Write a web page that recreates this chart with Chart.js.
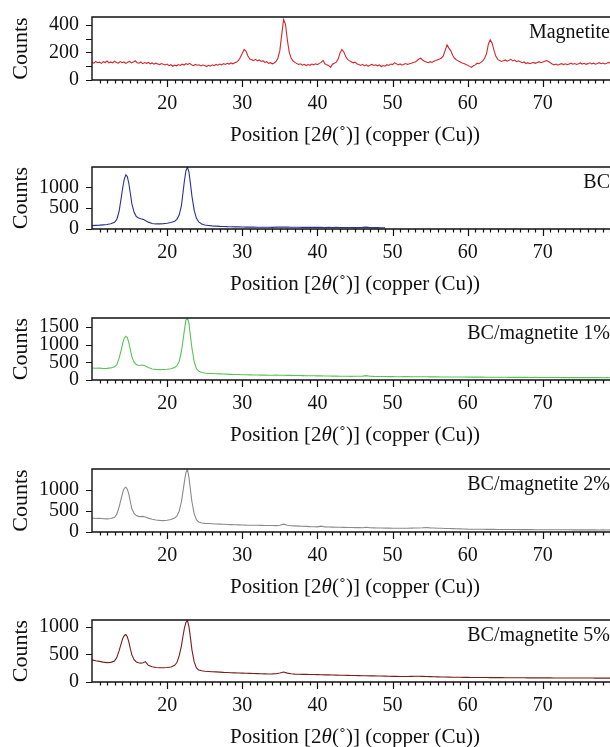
<!DOCTYPE html>
<html><head><meta charset="utf-8">
<script src="https://cdn.jsdelivr.net/npm/chart.js@4"></script>
<style>
html,body{margin:0;padding:0;background:#fff;overflow:hidden;width:610px;height:747px;position:relative;}
canvas.panel{position:absolute;left:0;}
</style></head><body>
<canvas id="c1" class="panel"></canvas>
<canvas id="c2" class="panel"></canvas>
<canvas id="c3" class="panel"></canvas>
<canvas id="c4" class="panel"></canvas>
<canvas id="c5" class="panel"></canvas>
<script>
// ---- Data (2θ in degrees, intensity in counts) ----
const xTickLabels = [20, 30, 40, 50, 60, 70];
const panelLabels = ['Magnetite', 'BC', 'BC/magnetite 1%', 'BC/magnetite 2%', 'BC/magnetite 5%'];

const magnetiteTheta = [
10,10.25,10.5,10.75,11,11.25,11.5,11.75,12,12.25,12.5,12.75,13,13.25,13.5,13.75,14,14.25,14.5,14.75,
15,15.25,15.5,15.75,16,16.25,16.5,16.75,17,17.25,17.5,17.75,18,18.25,18.5,18.75,19,19.25,19.5,19.75,
20,20.25,20.5,20.75,21,21.25,21.5,21.75,22,22.25,22.5,22.75,23,23.25,23.5,23.75,24,24.25,24.5,24.75,
25,25.25,25.5,25.75,26,26.25,26.5,26.75,27,27.25,27.5,27.75,28,28.25,28.5,28.75,29,29.25,29.5,29.75,
30,30.25,30.5,30.75,31,31.25,31.5,31.75,32,32.25,32.5,32.75,33,33.25,33.5,33.75,34,34.25,34.5,34.75,
35,35.25,35.5,35.75,36,36.25,36.5,36.75,37,37.25,37.5,37.75,38,38.25,38.5,38.75,39,39.25,39.5,39.75,
40,40.25,40.5,40.75,41,41.25,41.5,41.75,42,42.25,42.5,42.75,43,43.25,43.5,43.75,44,44.25,44.5,44.75,
45,45.25,45.5,45.75,46,46.25,46.5,46.75,47,47.25,47.5,47.75,48,48.25,48.5,48.75,49,49.25,49.5,49.75,
50,50.25,50.5,50.75,51,51.25,51.5,51.75,52,52.25,52.5,52.75,53,53.25,53.5,53.75,54,54.25,54.5,54.75,
55,55.25,55.5,55.75,56,56.25,56.5,56.75,57,57.25,57.5,57.75,58,58.25,58.5,58.75,59,59.25,59.5,59.75,
60,60.25,60.5,60.75,61,61.25,61.5,61.75,62,62.25,62.5,62.75,63,63.25,63.5,63.75,64,64.25,64.5,64.75,
65,65.25,65.5,65.75,66,66.25,66.5,66.75,67,67.25,67.5,67.75,68,68.25,68.5,68.75,69,69.25,69.5,69.75,
70,70.25,70.5,70.75,71,71.25,71.5,71.75,72,72.25,72.5,72.75,73,73.25,73.5,73.75,74,74.25,74.5,74.75,
75,75.25,75.5,75.75,76,76.25,76.5,76.75,77,77.25,77.5,77.75,78,78.25,78.5,78.75,79,79.25,79.5,79.75,
80];
const magnetiteCounts = [
128,122,135,126, 130,121,133,127, 138,125,131,124, 136,128,122,134, 126,131,121,129,
135,124,130,140, 126,122,131,119, 127,121,128,118, 124,115,122,117, 112,120,114,109,
116,104,111,100, 108,103,112,106, 115,109,119,113, 121,110,104,113, 107,111,102,109,
105,98,107,101, 110,104,113,108, 116,110,119,113, 121,116,124,118, 126,130,142,165,
195,222,210,175, 152,148,141,150, 139,146,135,140, 128,133,121,126, 118,124,135,160,
215,330,440,405, 290,200,160,138, 128,120,113,118, 108,114,105,112, 107,116,110,118,
112,121,128,142, 118,110,104,92, 115,121,130,150, 195,222,205,172, 150,141,133,125,
130,118,112,106, 114,103,110,100, 108,113,106,111, 103,109,98,105, 100,111,106,116,
112,125,119,110, 117,108,114,120, 113,118,122,127, 131,140,152,158, 145,137,131,126,
133,128,136,141, 147,152,160,175, 215,255,232,212, 180,158,146,138, 131,124,120,113,
108,99,92,103, 110,122,118,128, 139,158,190,260, 292,268,215,172, 150,141,135,140,
146,137,143,150, 139,145,134,140, 132,126,131,120, 126,118,123,128, 121,127,133,126,
131,137,141,135, 126,117,110,116, 108,114,119,112, 118,111,117,122, 115,120,113,118,
124,116,121,114, 119,125,117,122, 115,120,126,118, 123,117,121,128, 120,125,118,123,
119];

// shared 2θ positions for the cellulose-based samples
const celluloseTheta = [
10,10.5,11,11.5,12,12.5,13,13.3,13.6,13.9,14.1,14.3,14.5,14.7,14.9,15.1,15.3,15.6,15.9,16.2,16.5,16.8,17.1,17.5,
18,18.5,19,19.5,20,20.5,21,21.3,21.6,21.9,22.1,22.3,22.5,22.7,22.9,23.1,23.3,23.6,23.9,24.2,24.6,
25,25.5,26,26.5,27,27.5,28,28.5,29,29.5, 30,30.5,31,31.5,32,32.5,33,33.5,34,34.5,
35,35.5,36,36.5,37,37.5,38,38.5,39,39.5, 40,40.5,41,41.5,42,42.5,43,43.5,44,44.5,
45,45.5,46,46.5,47,47.5,48,48.5,49,49.5, 50,50.5,51,51.5,52,52.5,53,53.5,54,54.5,
55,55.5,56,56.5,57,57.5,58,58.5,59,59.5, 60,60.5,61,61.5,62,62.5,63,63.5,64,64.5,
65,65.5,66,66.5,67,67.5,68,68.5,69,69.5, 70,70.5,71,71.5,72,72.5,73,73.5,74,74.5,
75,75.5,76,76.5,77,77.5,78,78.5,79,79.5, 80];

const bcCounts = [
80,88,92,100,108,125,160,230,420,760,1010,1200,1300,1260,1100,860,610,400,300,262,245,232,205,165,
132,122,124,130,140,158,188,232,335,560,860,1160,1400,1485,1370,1090,790,450,255,172,122,
98,86,76,70,64,61,57,55,52,50, 47,46,44,45,42,43,41,43,40,44,
46,48,45,43,41,42,40,41,39,40, 38,40,37,39,37,38,36,37,35,36,
34,36,38,44,37,34,32,31,29];

const bcMag1Counts = [
340,332,336,326,330,342,372,435,610,860,1050,1190,1235,1200,1060,860,660,505,435,412,418,422,398,352,
312,300,294,298,306,320,352,405,525,800,1100,1420,1690,1760,1600,1250,900,520,322,250,212,
196,186,182,176,172,168,166,160,156,154, 150,147,146,142,141,138,139,136,135,137,
134,136,132,130,128,126,125,122,121,119, 118,116,113,112,110,109,108,106,105,104,
105,106,110,124,108,102,100,98,97,95, 96,94,93,95,97,93,91,92,90,92,
89,88,89,87,86,87,85,84,85,83, 82,81,82,80,80,79,78,79,77,76,
77,75,76,74,75,73,74,72,73,71, 72,70,71,69,70,68,70,68,69,67,
68,66,68,67,66,67,65,66,65,66, 65];

const bcMag2Counts = [
332,322,326,316,312,322,352,425,585,805,950,1040,1065,1020,900,720,560,442,390,372,366,372,356,330,
302,286,276,272,280,298,330,382,495,720,955,1200,1420,1490,1300,1000,720,432,292,236,216,
206,201,196,192,188,184,180,176,172,170, 166,163,162,160,160,158,156,154,153,152,
160,188,162,150,146,141,137,133,128,126, 122,140,121,118,116,114,112,110,108,106,
105,103,101,114,100,98,96,94,93,92, 90,89,91,88,90,92,94,97,100,106,
98,94,90,88,85,83,80,78,75,72, 68,67,66,65,64,63,63,62,61,60,
60,59,58,58,57,57,56,56,55,55, 55,54,54,53,54,52,53,52,51,52,
51,50,51,50,50,49,50,49,50,49, 49];

const bcMag5Counts = [
400,382,372,358,350,354,380,440,560,700,790,840,855,815,722,600,492,402,362,346,340,348,368,300,
276,262,256,258,262,270,300,350,470,650,820,970,1075,1110,1000,800,580,362,252,216,202,
194,190,186,182,178,174,172,168,165,162, 160,158,156,153,151,149,147,145,146,150,
162,180,160,148,142,140,138,137,135,134, 133,131,129,128,126,124,123,121,119,118,
116,115,113,112,111,110,109,107,106,104, 102,101,100,99,100,101,103,105,102,99,
97,95,93,91,90,88,87,86,85,84, 83,82,82,81,80,80,79,79,78,78,
77,77,77,76,76,76,75,75,75,75, 74,74,74,73,73,73,72,72,72,72,
71,71,71,71,70,70,70,70,70,70, 70];

// y-axis tick labels per panel
const yTickLabels1 = [0, 200, 400];
const yTickLabels2 = [0, 500, 1000];
const yTickLabels3 = [0, 500, 1000, 1500];
const yTickLabels4 = [0, 500, 1000];
const yTickLabels5 = [0, 500, 1000];

// ---- Layout ----
const FONT = '"Liberation Serif", "Times New Roman", serif';
const PAD_TOP = 4, AXIS_H = 66, LEFT = 92, CANVAS_W = 630;

const panels = [
  {id:'c1', theta:magnetiteTheta, counts:magnetiteCounts, color:'#d3262c', label:panelLabels[0], top:17, bottom:80, yMax:458, yMinor:100, yLabels:yTickLabels1},
  {id:'c2', theta:celluloseTheta, counts:bcCounts, color:'#2e3192', label:panelLabels[1], top:167, bottom:229, yMax:1490, yMinor:500, yLabels:yTickLabels2},
  {id:'c3', theta:celluloseTheta, counts:bcMag1Counts, color:'#58c456', label:panelLabels[2], top:318, bottom:380, yMax:1755, yMinor:500, yLabels:yTickLabels3},
  {id:'c4', theta:celluloseTheta, counts:bcMag2Counts, color:'#8a8a8a', label:panelLabels[3], top:469, bottom:532, yMax:1500, yMinor:500, yLabels:yTickLabels4},
  {id:'c5', theta:celluloseTheta, counts:bcMag5Counts, color:'#7a1d1d', label:panelLabels[4], top:620, bottom:682, yMax:1118, yMinor:500, yLabels:yTickLabels5}
];

const framePlugin = {
  id: 'frame',
  afterDraw(chart, args, opts) {
    const {ctx, chartArea:{left, top, right, bottom}, scales:{x, y}} = chart;
    ctx.save();
    ctx.strokeStyle = '#111';
    ctx.lineWidth = 1.4;
    ctx.beginPath();
    ctx.moveTo(right + 5, top); ctx.lineTo(left, top); ctx.lineTo(left, bottom); ctx.lineTo(right + 5, bottom);
    ctx.stroke();
    // x ticks: minor each degree, major each 10
    ctx.lineWidth = 1.2;
    ctx.beginPath();
    for (let v = Math.ceil(x.min) + 1; v <= x.max; v++) {
      const px = Math.round(x.getPixelForValue(v)) + 0.5;
      const len = (v % 10 === 0) ? 7 : 3.5;
      ctx.moveTo(px, bottom); ctx.lineTo(px, bottom + len);
    }
    ctx.stroke();
    // y ticks (not at the very top edge)
    ctx.beginPath();
    for (let v = 0; v < y.max - 1; v += opts.yMinor) {
      const py = Math.round(y.getPixelForValue(v)) + 0.5;
      ctx.moveTo(left - 6, py); ctx.lineTo(left, py);
    }
    ctx.stroke();
    // y tick labels from the scale's ticks
    ctx.fillStyle = '#111';
    ctx.font = '20px ' + FONT;
    ctx.textAlign = 'right'; ctx.textBaseline = 'middle';
    y.ticks.forEach(t => ctx.fillText(String(t.value), left - 13, y.getPixelForValue(t.value)));
    // panel label
    ctx.textAlign = 'right'; ctx.textBaseline = 'alphabetic';
    ctx.fillText(opts.label, 610, top + 21);
    // y title
    ctx.save();
    ctx.translate(21, (top + bottom) / 2);
    ctx.rotate(-Math.PI / 2);
    ctx.font = '22px ' + FONT;
    ctx.textAlign = 'center'; ctx.textBaseline = 'middle';
    ctx.fillText('Counts', 0, 0);
    ctx.restore();
    // x title with italic theta
    const parts = [['Position [2', false], ['\u03B8', true], ['(\u02DA)] (copper (Cu))', false]];
    let total = 0;
    parts.forEach(p => { ctx.font = (p[1] ? 'italic ' : '') + '21px ' + FONT; p.push(ctx.measureText(p[0]).width); total += p[2]; });
    let cx = (left + right) / 2 - total / 2;
    ctx.textAlign = 'left'; ctx.textBaseline = 'middle';
    parts.forEach(p => { ctx.font = (p[1] ? 'italic ' : '') + '21px ' + FONT; ctx.fillText(p[0], cx, bottom + 55); cx += p[2]; });
    ctx.restore();
  }
};

panels.forEach(p => {
  const cv = document.getElementById(p.id);
  const h = PAD_TOP + (p.bottom - p.top) + AXIS_H;
  cv.width = CANVAS_W; cv.height = h;
  cv.style.width = CANVAS_W + 'px'; cv.style.height = h + 'px';
  cv.style.top = (p.top - PAD_TOP) + 'px';
  new Chart(cv.getContext('2d'), {
    type: 'line',
    data: {
      datasets: [{
        data: p.counts.map((c, i) => ({x: p.theta[i], y: c})),
        borderColor: p.color, borderWidth: 1.1, pointRadius: 0, tension: 0, fill: false
      }]
    },
    options: {
      responsive: false, animation: false, devicePixelRatio: 1,
      layout: {autoPadding: false, padding: {top: PAD_TOP, right: 12, left: 0, bottom: 0}},
      plugins: {legend: {display: false}, tooltip: {enabled: false}, frame: {label: p.label, yMinor: p.yMinor}},
      scales: {
        x: {
          type: 'linear', min: 10, max: 80,
          grid: {display: false, drawTicks: false}, border: {display: false},
          ticks: {stepSize: 10, autoSkip: false, maxRotation: 0, includeBounds: false, padding: 12,
                  color: '#111', font: {family: FONT, size: 20},
                  callback: v => xTickLabels.includes(v) ? String(v) : ''},
          afterFit(s) { s.height = AXIS_H; }
        },
        y: {
          type: 'linear', min: 0, max: p.yMax,
          grid: {display: false, drawTicks: false}, border: {display: false},
          ticks: {display: false},
          afterBuildTicks(s) { s.ticks = p.yLabels.map(v => ({value: v})); },
          afterFit(s) { s.width = LEFT; }
        }
      }
    },
    plugins: [framePlugin]
  });
});
</script>
</body></html>
